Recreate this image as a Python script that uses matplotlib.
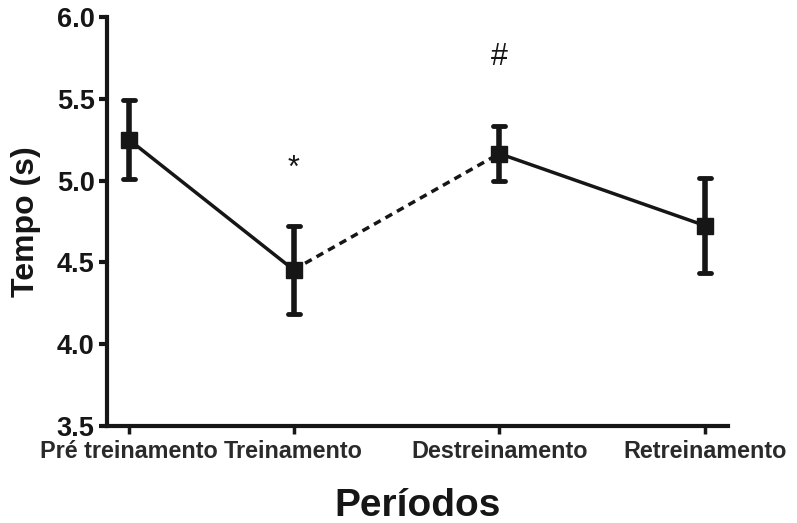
import matplotlib
matplotlib.use("Agg")
import matplotlib.pyplot as plt
from matplotlib.markers import MarkerStyle

plt.rcParams['font.family'] = ['Liberation Sans', 'DejaVu Sans']

# Data
periods = ["Pré treinamento", "Treinamento", "Destreinamento", "Retreinamento"]
positions = [0.0, 0.8, 1.8, 2.8]
mean_time = [5.25, 4.455, 5.165, 4.725]
sd_time = [0.24, 0.27, 0.17, 0.29]
markers_text = ["", "*", "#", ""]
marker_text_y = [None, 5.07, 5.755, None]

fig = plt.figure(figsize=(7.97, 5.23), dpi=100)
ax = fig.add_axes([107 / 797, 97 / 523, 621 / 797, 409 / 523])

col = "#161616"

# Solid segments and dashed segment between training and detraining
ax.plot(positions[0:2], mean_time[0:2], color=col, lw=2.5, zorder=2)
ax.plot(positions[1:3], mean_time[1:3], color=col, lw=2.5, ls=(0, (2.2, 1.6)), zorder=2)
ax.plot(positions[2:4], mean_time[2:4], color=col, lw=2.5, zorder=2)

eb = ax.errorbar(positions, mean_time, yerr=sd_time, fmt='s', color=col,
                 markersize=11, elinewidth=4, capsize=4.5, capthick=3.5, zorder=3)
for cap in eb[1]:
    cap.set_marker(MarkerStyle('_', capstyle='round'))

for x, t, ty in zip(positions, markers_text, marker_text_y):
    if t:
        ax.text(x, ty, t, ha='center', va='center', fontsize=22, color=col)

ax.set_xlim(-0.107, 2.912)
ax.set_ylim(3.5, 6.0)
ax.set_yticks([3.5, 4.0, 4.5, 5.0, 5.5, 6.0])
ax.set_yticklabels(["3.5", "4.0", "4.5", "5.0", "5.5", "6.0"])
ax.set_xticks(positions)
ax.set_xticklabels(periods)

for side in ("top", "right"):
    ax.spines[side].set_visible(False)
for side in ("left", "bottom"):
    ax.spines[side].set_linewidth(3)
    ax.spines[side].set_color(col)

ax.tick_params(axis='y', length=6, width=3, color=col, labelsize=19.5, pad=3)
ax.tick_params(axis='x', length=6, width=2.5, color=col, labelsize=16.8, pad=4)
for lab in ax.get_yticklabels():
    lab.set_fontweight('bold')
    lab.set_color(col)
for lab in ax.get_xticklabels():
    lab.set_fontweight('bold')
    lab.set_color('#2a2a2a')

ax.set_ylabel("Tempo (s)", fontsize=23, fontweight='bold', color=col, labelpad=11)
ax.set_xlabel("Períodos", fontsize=28, fontweight='bold', color=col, labelpad=18)

fig.savefig("out.png", dpi=100, facecolor='white')
